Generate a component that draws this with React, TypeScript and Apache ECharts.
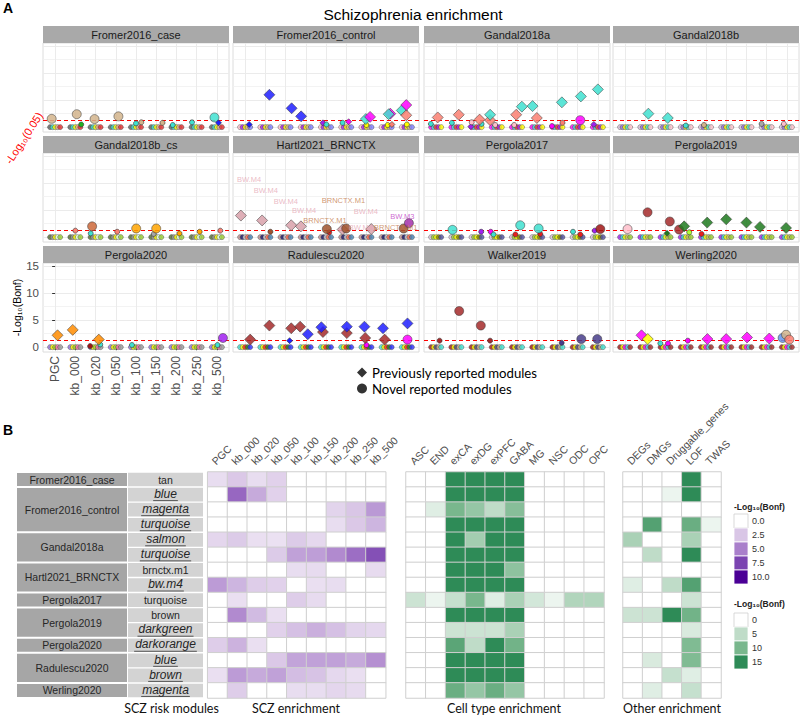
import React, { useEffect, useRef } from "react";
import * as echarts from "echarts";

const ARIAL = "'Liberation Sans', Arial, sans-serif";
const CALIBRI = "Lato, 'Open Sans', sans-serif";

// ---------------- Panel A data ----------------
const categories = ["PGC", "kb_000", "kb_020", "kb_050", "kb_100", "kb_150", "kb_200", "kb_250", "kb_500"];
const facetNames = [
  "Fromer2016_case", "Fromer2016_control", "Gandal2018a", "Gandal2018b",
  "Gandal2018b_cs", "Hartl2021_BRNCTX", "Pergola2017", "Pergola2019",
  "Pergola2020", "Radulescu2020", "Walker2019", "Werling2020",
];

const moduleColours: Record<string, string> = {
  tan: "#d2b48c", turquoise: "#40e0d0", blue: "#1e1eff", magenta: "#ff00ff", salmon: "#fa8072",
  pink: "#ffc0cb", purple: "#a020f0", red: "#e62020", yellow: "#ffff00", green: "#22b022",
  brown: "#a52a2a", darkgreen: "#1f7a1f", darkorange: "#ff8c00", orange: "#ffa500", sienna: "#cd6839",
  darkred: "#a01414", darkslateblue: "#483d8b", cornflowerblue: "#6495ed", bwm4: "#d8a1aa",
  brnctx: "#a0522d", bwm3: "#a531ab", greenyellow: "#adff2f", grey: "#a8a8a8",
};

// [category index, jitter, -log10(Bonf), module colour, shape (d = previously reported, c = novel)]
type Pt = [number, number, number, string, string];

const ptsFromer2016Case: Pt[] = [
  [0, -0.17, 1.54, "tan", "c"], [1, 0.07, 2.4, "tan", "c"], [1, 0.29, 0.5, "green", "c"],
  [2, -0.05, 1.5, "tan", "c"], [3, 0.13, 2.0, "tan", "c"], [4, 0.0, 0.7, "turquoise", "c"],
  [4, 0.26, 0.9, "tan", "c"], [5, 0.31, 0.8, "tan", "c"], [6, -0.18, 0.4, "turquoise", "c"],
  [7, -0.23, 0.9, "turquoise", "c"], [8, -0.12, 1.8, "turquoise", "c"], [8, 0.08, 0.8, "blue", "d"],
];
const ptsFromer2016Control: Pt[] = [
  [0, 0.2, 0.5, "blue", "d"], [1, 0.2, 6.0, "blue", "d"], [2, 0.3, 3.5, "blue", "d"],
  [3, -0.23, 2.0, "blue", "d"], [4, -0.15, 0.8, "purple", "d"], [4, 0.02, 0.5, "turquoise", "c"],
  [5, -0.18, 0.8, "turquoise", "c"], [5, 0.12, 1.0, "magenta", "d"], [6, 0.0, 0.4, "yellow", "c"],
  [6, -0.03, 1.5, "turquoise", "d"], [6, 0.18, 1.9, "magenta", "d"], [7, 0.05, 0.4, "yellow", "c"],
  [7, 0.26, 0.5, "salmon", "d"], [7, 0.18, 2.5, "magenta", "d"], [7, 0.1, 2.4, "turquoise", "d"],
  [8, 0.0, 0.5, "yellow", "c"], [8, -0.25, 3.1, "turquoise", "d"], [8, -0.03, 2.2, "salmon", "d"],
  [8, -0.03, 4.1, "magenta", "d"],
];
const ptsGandal2018a: Pt[] = [
  [0, -0.26, 0.6, "turquoise", "c"], [0, 0.08, 1.8, "salmon", "d"], [1, -0.22, 0.8, "turquoise", "c"],
  [1, 0.12, 2.3, "salmon", "d"], [2, -0.28, 0.1, "purple", "d"], [2, -0.24, 0.9, "pink", "c"],
  [2, 0.25, 0.6, "turquoise", "c"], [2, 0.15, 1.4, "salmon", "d"], [3, -0.08, 0.4, "pink", "c"],
  [3, -0.33, 1.3, "salmon", "d"], [3, -0.33, 2.3, "turquoise", "d"], [4, -0.14, 0.4, "pink", "c"],
  [4, -0.04, 2.3, "salmon", "d"], [4, 0.24, 3.8, "turquoise", "d"], [5, -0.02, 1.7, "salmon", "d"],
  [5, -0.23, 3.9, "turquoise", "d"], [6, -0.27, 0.2, "magenta", "c"], [6, 0.25, 0.8, "salmon", "c"],
  [6, 0.22, 4.6, "turquoise", "d"], [7, 0.13, 1.3, "magenta", "c"], [7, 0.16, 5.7, "turquoise", "d"],
  [8, -0.2, 0.5, "purple", "d"], [8, 0.0, 7.0, "turquoise", "d"],
];
const ptsGandal2018b: Pt[] = [
  [1, 0.15, 2.5, "turquoise", "d"], [2, 0.11, 1.7, "turquoise", "d"], [3, 0.0, 0.3, "turquoise", "c"],
  [4, -0.1, 0.4, "tan", "c"], [7, -0.25, 0.6, "grey", "c"], [8, -0.15, 0.6, "pink", "c"],
];
const ptsGandal2018bCs: Pt[] = [
  [1, 0.0, 1.2, "salmon", "c"], [2, -0.24, 0.7, "turquoise", "c"], [2, -0.17, 2.0, "sienna", "c"],
  [3, 0.07, 1.0, "salmon", "c"], [4, 0.01, 1.6, "orange", "c"], [5, -0.12, 0.6, "grey", "c"],
  [5, 0.0, 1.6, "orange", "c"], [6, 0.15, 0.7, "orange", "c"], [7, 0.15, 1.0, "orange", "c"],
  [8, 0.17, 1.2, "salmon", "c"],
];
const ptsHartl2021: Pt[] = [
  [0, -0.21, 4.0, "bwm4", "d"], [1, 0.25, 1.0, "brnctx", "c"], [1, -0.16, 3.1, "bwm4", "d"],
  [2, 0.28, 2.2, "bwm4", "d"], [3, -0.24, 2.0, "bwm4", "d"], [4, 0.16, 0.9, "red", "c"],
  [4, 0.04, 1.5, "brnctx", "c"], [5, -0.18, 1.4, "bwm4", "d"], [5, 0.0, 1.6, "brnctx", "c"],
  [6, 0.24, 1.5, "bwm4", "d"], [8, -0.16, 1.6, "brnctx", "c"], [8, 0.1, 2.6, "bwm3", "c"],
];
const ptsPergola2017: Pt[] = [
  [1, -0.19, 1.36, "turquoise", "c"], [2, 0.23, 1.0, "purple", "c"], [3, -0.3, 1.0, "magenta", "c"],
  [3, -0.16, 0.5, "turquoise", "c"], [4, -0.08, 0.5, "red", "c"], [4, 0.16, 2.2, "turquoise", "c"],
  [5, 0.15, 0.6, "red", "c"], [5, 0.07, 1.6, "turquoise", "c"], [7, -0.23, 1.0, "turquoise", "c"],
  [7, 0.13, 0.5, "red", "c"], [8, -0.16, 1.2, "purple", "c"], [8, 0.12, 1.5, "darkred", "c"],
];
const ptsPergola2019: Pt[] = [
  [0, 0.12, 1.5, "pink", "c"], [1, 0.11, 4.6, "brown", "c"], [2, 0.07, 0.7, "darkgreen", "d"],
  [2, 0.21, 2.9, "brown", "c"], [3, 0.17, 0.9, "greenyellow", "c"], [3, -0.33, 1.4, "brown", "c"],
  [3, -0.08, 2.0, "darkgreen", "d"], [4, -0.22, 0.6, "red", "c"], [4, 0.06, 2.7, "darkgreen", "d"],
  [5, 0.0, 3.3, "darkgreen", "d"], [6, 0.0, 2.7, "darkgreen", "d"], [7, -0.33, 1.9, "darkgreen", "d"],
  [8, -0.04, 1.7, "darkgreen", "d"],
];
const ptsPergola2020: Pt[] = [
  [0, 0.12, 2.2, "darkorange", "d"], [1, -0.13, 3.2, "darkorange", "d"], [2, -0.27, 0.2, "darkred", "c"],
  [2, 0.23, 0.5, "turquoise", "c"], [2, 0.16, 1.4, "darkorange", "d"], [4, -0.2, 0.4, "turquoise", "c"],
  [8, 0.03, 0.4, "turquoise", "c"], [8, 0.3, 1.7, "purple", "c"],
];
const ptsRadulescu2020: Pt[] = [
  [0, 0.25, 1.4, "brown", "d"], [1, 0.2, 4.0, "brown", "d"], [2, 0.2, 1.2, "blue", "d"],
  [2, 0.28, 3.5, "brown", "d"], [3, -0.28, 3.8, "brown", "d"], [3, 0.1, 2.4, "blue", "d"],
  [4, -0.15, 2.8, "brown", "d"], [4, -0.23, 3.7, "blue", "d"], [5, 0.03, 2.6, "brown", "d"],
  [5, 0.03, 3.8, "blue", "d"], [6, 0.0, 0.4, "magenta", "c"], [6, -0.06, 1.7, "brown", "d"],
  [6, -0.1, 3.8, "blue", "d"], [7, -0.1, 1.4, "brown", "d"], [7, -0.18, 3.5, "blue", "d"],
  [8, 0.03, 1.4, "magenta", "c"], [8, 0.03, 4.4, "blue", "d"],
];
const ptsWalker2019: Pt[] = [
  [0, 0.17, 1.2, "brown", "c"], [1, 0.14, 6.7, "brown", "c"], [2, 0.21, 4.0, "brown", "c"],
  [3, -0.33, 1.2, "brown", "c"], [6, 0.21, 0.8, "darkslateblue", "c"], [7, 0.18, 1.5, "darkslateblue", "c"],
  [8, -0.03, 1.5, "darkslateblue", "c"],
];
const ptsWerling2020: Pt[] = [
  [1, -0.19, 2.2, "magenta", "d"], [1, 0.12, 1.5, "yellow", "d"], [2, -0.26, 0.7, "turquoise", "c"],
  [2, 0.12, 0.7, "magenta", "c"], [3, 0.1, 1.2, "magenta", "c"], [4, 0.07, 1.5, "magenta", "d"],
  [5, 0.0, 1.5, "magenta", "d"], [6, 0.03, 1.8, "magenta", "d"], [7, 0.13, 1.6, "magenta", "d"],
  [8, -0.21, 1.7, "cornflowerblue", "c"], [8, -0.04, 2.3, "tan", "c"], [8, 0.12, 1.4, "salmon", "c"],
];

const facetPoints: Pt[][] = [
  ptsFromer2016Case, ptsFromer2016Control, ptsGandal2018a, ptsGandal2018b,
  ptsGandal2018bCs, ptsHartl2021, ptsPergola2017, ptsPergola2019,
  ptsPergola2020, ptsRadulescu2020, ptsWalker2019, ptsWerling2020,
];

// non-significant modules sitting at 0 in every category
const facetBaselines: string[][] = [
  ["#5e5e5e", "#40e0d0", "#ffff00", "#d8a0a0", "#e03030"],
  ["#ffc0cb", "#a020f0", "#ffff00", "#d2b48c", "#8080ff"],
  ["#ff00ff", "#40e0d0", "#ff3030", "#a020f0", "#ffff00"],
  ["#d8bfd8", "#9370db", "#ffff00", "#40e0d0", "#ffc0cb"],
  ["#556b2f", "#9a9a9a", "#ffff00", "#e0ffff", "#9acd32"],
  ["#bc8f8f", "#191970", "#d3d3d3", "#ff6347", "#4682b4"],
  ["#d8bfd8", "#9acd32", "#ffff00", "#808000", "#5050a0"],
  ["#a020f0", "#40e0d0", "#ffff00", "#bdb76b", "#9acd32"],
  ["#9370db", "#ffff00", "#9acd32", "#ff69b4", "#9a9a9a"],
  ["#40e0d0", "#ffff00", "#ff2020", "#228b22", "#3030ff"],
  ["#a01414", "#ffff00", "#483d8b", "#d2b48c", "#40e0d0"],
  ["#a01414", "#ffff00", "#ff00ff", "#40e0d0", "#a52a2a"],
];
const baselineOffsets = [-0.25, -0.125, 0, 0.125, 0.25];

// repelled labels in Hartl2021_BRNCTX: [x, y, text]
const hartlLabels: [number, number, string][] = [
  [0.19, 10.7, "BW.M4"], [1.02, 8.6, "BW.M4"], [2.01, 6.7, "BW.M4"], [2.92, 5.0, "BW.M4"],
  [5.97, 4.75, "BW.M4"], [5.72, 1.7, "BW.M4"], [4.86, 6.8, "BRNCTX.M1"], [3.95, 3.1, "BRNCTX.M1"],
  [7.45, 1.85, "BRNCTX.M1"], [7.78, 3.83, "BW.M3"],
];
const hartlLabelColours: Record<string, string> = { "BW.M4": "#e6a9b6", "BRNCTX.M1": "#c47c4c", "BW.M3": "#c13fc6" };

const SIG_LINE = 1.3; // -log10(0.05)

// ---------------- Panel B data ----------------
const studyGroups = ["Fromer2016_case", "Fromer2016_control", "Gandal2018a", "Hartl2021_BRNCTX", "Pergola2017", "Pergola2019", "Pergola2020", "Radulescu2020", "Werling2020"];
const studyGroupSizes = [1, 3, 2, 2, 1, 2, 1, 2, 1];
const moduleNames = ["tan", "blue", "magenta", "turquoise", "salmon", "turquoise", "brnctx.m1", "bw.m4", "turquoise", "brown", "darkgreen", "darkorange", "blue", "brown", "magenta"];
const moduleReported = [false, true, true, true, true, true, false, true, false, false, true, true, true, true, true];

const sczColumns = categories;
const sczEnrichment = [
  [1.5, 2.4, 1.5, 2.0, 0, 0, 0, 0, 0],
  [0, 6.0, 3.5, 2.0, 0, 0, 0, 0, 0],
  [0, 0, 0, 0, 0, 0, 1.9, 2.5, 4.1],
  [0, 0, 0, 0, 0, 0, 1.5, 2.4, 3.1],
  [1.8, 2.3, 1.4, 1.3, 2.3, 1.7, 0, 0, 0],
  [0, 0, 0, 2.3, 3.8, 3.9, 4.6, 5.7, 7.0],
  [0, 0, 0, 0, 1.5, 1.6, 0, 0, 1.6],
  [4.0, 3.1, 2.2, 2.0, 0, 1.4, 1.5, 0, 0],
  [0, 1.4, 0, 0, 2.2, 1.6, 0, 0, 0],
  [0, 4.6, 2.9, 1.4, 0, 0, 0, 0, 0],
  [0, 0, 0, 2.0, 2.7, 3.3, 2.7, 1.9, 1.7],
  [2.2, 3.2, 1.4, 0, 0, 0, 0, 0, 0],
  [0, 0, 0, 2.4, 3.7, 3.8, 3.8, 3.5, 4.4],
  [1.4, 4.0, 3.5, 3.8, 2.8, 2.6, 1.7, 1.4, 0],
  [0, 2.2, 0, 0, 1.5, 1.5, 1.8, 1.6, 0],
];

const cellColumns = ["ASC", "END", "exCA", "exDG", "exPFC", "GABA", "MG", "NSC", "ODC", "OPC"];
const cellEnrichment = [
  [0, 0, 15, 15, 15, 15, 0, 0, 0, 0],
  [0, 0, 15, 15, 15, 15, 0, 0, 0, 0],
  [0, 2.5, 10, 8, 5, 9, 0, 0, 0, 0],
  [0, 0, 15, 15, 15, 15, 0, 0, 0, 0],
  [0, 0, 15, 7, 15, 15, 0, 0, 0, 0],
  [0, 0, 15, 15, 15, 15, 0, 0, 0, 0],
  [0, 0, 15, 15, 15, 8.5, 0, 0, 0, 0],
  [0, 0, 15, 15, 15, 15, 0, 0, 0, 0],
  [4, 1.5, 4.5, 10, 2.5, 6.5, 3.5, 1.5, 6, 6],
  [0, 0, 15, 15, 15, 15, 0, 0, 0, 0],
  [0, 0, 4, 4, 4, 6.5, 0, 0, 0, 0],
  [0, 0, 12, 5, 15, 10.5, 0, 0, 0, 0],
  [0, 0, 15, 15, 15, 15, 0, 0, 0, 0],
  [0, 0, 15, 15, 15, 15, 0, 0, 0, 0],
  [0, 0, 11, 8, 11, 8, 0, 0, 0, 0],
];

const otherColumns = ["DEGs", "DMGs", "Druggable_genes", "LOF", "TWAS"];
const otherEnrichment = [
  [0, 0, 0, 15, 0],
  [0, 0, 1.5, 15, 0],
  [0, 0, 0, 0, 0],
  [0, 12.5, 0, 11, 1.5],
  [6.5, 0, 0, 6.5, 0],
  [0, 5, 0, 15, 0],
  [0, 0, 0, 0, 0],
  [2.5, 0, 5, 12.5, 0],
  [0, 0, 0, 4, 0],
  [4, 4, 15, 10.5, 0],
  [0, 0, 0, 3, 0],
  [0, 0, 0, 9.5, 0],
  [0, 3, 0, 9.5, 0],
  [0, 0, 4.5, 2.5, 0],
  [0, 2.5, 0, 4.5, 0],
];

const purpleStops = ["#ffffff", "#d9c6e6", "#a97fcb", "#7b44b1", "#4b0096"];
const greenStops = ["#ffffff", "#bfdcc8", "#79b78d", "#2e8b57"];
const purpleLegendValues = [0, 2.5, 5, 7.5, 10];
const greenLegendValues = [0, 5, 10, 15];

// ---------------- layout ----------------
const FACET_LEFT = [43, 233, 424, 613];
const FACET_TOP = [43, 153, 263];
const FACET_W = 186;
const FACET_H = 89;
const STRIP_H = 17;
const HM_TOP = 472;
const HM_H = 226;
const STUDY_FRAC = 110 / 186;

let measureCtx: CanvasRenderingContext2D | null = null;
function textWidth(text: string, font: string) {
  if (!measureCtx) measureCtx = document.createElement("canvas").getContext("2d");
  if (!measureCtx) return text.length * 6;
  measureCtx.font = font;
  return measureCtx.measureText(text).width;
}

function buildOption() {
  const grid: any[] = [];
  const xAxis: any[] = [];
  const yAxis: any[] = [];
  const series: any[] = [];
  const graphic: any[] = [];

  facetNames.forEach((name, k) => {
    const r = Math.floor(k / 4);
    const c = k % 4;
    const left = FACET_LEFT[c];
    const top = FACET_TOP[r];
    const isBL = r === 2 && c === 0;
    grid.push({ left, top, width: FACET_W, height: FACET_H, show: true, backgroundColor: "#ffffff", borderColor: "#dcdcdc", borderWidth: 1 });
    xAxis.push({
      type: "value", gridIndex: k, min: -0.6, max: 8.6, minInterval: 1, maxInterval: 1,
      axisLine: { show: false },
      axisTick: { show: isBL, length: 3, lineStyle: { color: "#333" }, customValues: categories.map((_, i) => i) },
      axisLabel: {
        show: isBL, rotate: 90, fontSize: 12, color: "#4d4d4d", margin: 4, fontFamily: ARIAL,
        formatter: (v: number) => (Number.isInteger(v) && v >= 0 && v < categories.length ? categories[v] : ""),
      },
      splitLine: { show: true, lineStyle: { color: "#ebebeb", width: 1 } },
    });
    yAxis.push({
      type: "value", gridIndex: k, min: -0.9, max: 15.6, minInterval: 5, maxInterval: 5,
      axisLine: { show: false },
      axisTick: { show: isBL, length: 3, lineStyle: { color: "#333" }, customValues: [0, 5, 10, 15] },
      axisLabel: {
        show: isBL, fontSize: 11.5, color: "#4d4d4d", margin: 4, fontFamily: ARIAL,
        formatter: (v: number) => (v >= 0 && Math.abs(v % 5) < 1e-9 ? String(v) : ""),
      },
      splitLine: { show: true, lineStyle: { color: "#ebebeb", width: 1 } },
      minorTick: { show: false, splitNumber: 2 },
      minorSplitLine: { show: true, lineStyle: { color: "#f0f0f0", width: 0.8 } },
      name: isBL ? "-Log₁₀(Bonf)" : "", nameLocation: "middle", nameRotate: 90, nameGap: 19,
      nameTextStyle: { fontSize: 10.5, color: "#000", fontFamily: ARIAL },
    });

    // strip
    graphic.push({ type: "rect", shape: { x: left, y: top - STRIP_H, width: FACET_W, height: STRIP_H }, style: { fill: "#a9a9a9" }, silent: true });
    graphic.push({
      type: "text", x: left + FACET_W / 2, y: top - STRIP_H / 2 + 0.5,
      style: { text: name, fill: "#1a1a1a", font: `11px ${ARIAL}`, textAlign: "center", textVerticalAlign: "middle" }, silent: true,
    });

    const base: any[] = [];
    categories.forEach((_, ci) => {
      facetBaselines[k].forEach((col, j) => base.push({ value: [ci + baselineOffsets[j], 0], itemStyle: { color: col } }));
    });
    series.push({
      type: "scatter", xAxisIndex: k, yAxisIndex: k, data: base, symbol: "circle", symbolSize: 5,
      itemStyle: { borderColor: "#3a3a3a", borderWidth: 0.5 }, silent: true, z: 2,
      markLine: {
        silent: true, symbol: "none", z: 2, label: { show: false },
        lineStyle: { color: "#ff0000", type: [4, 3], width: 1.2 },
        data: [{ yAxis: SIG_LINE }],
      },
    });
    series.push({
      type: "scatter", xAxisIndex: k, yAxisIndex: k, silent: true, z: 3,
      data: facetPoints[k].map(([ci, dx, y, col, sh]) => {
        const big = y >= SIG_LINE;
        const dia = sh === "d";
        return {
          value: [ci + dx, y],
          symbol: dia ? "diamond" : "circle",
          symbolSize: big ? (dia ? 11 : 9) : (dia ? 6 : 5),
          itemStyle: { color: moduleColours[col], opacity: big ? 0.85 : 1, borderColor: "#333", borderWidth: 0.6 },
        };
      }),
    });
    if (name === "Hartl2021_BRNCTX") {
      series.push({
        type: "scatter", xAxisIndex: k, yAxisIndex: k, silent: true, z: 4, symbolSize: 0.1,
        itemStyle: { color: "rgba(0,0,0,0)" },
        label: { show: true, position: "inside", formatter: "{b}", fontSize: 7.5, fontFamily: ARIAL },
        data: hartlLabels.map(([x, y, t]) => ({ value: [x, y], name: t, label: { color: hartlLabelColours[t] } })),
      });
    }
  });

  // legend dummy series
  series.push({ type: "scatter", name: "Previously reported modules", xAxisIndex: 0, yAxisIndex: 0, data: [], itemStyle: { color: "#000" } });
  series.push({ type: "scatter", name: "Novel reported modules", xAxisIndex: 0, yAxisIndex: 0, data: [], itemStyle: { color: "#000" } });

  // ---------------- Panel B ----------------
  const rowIds = moduleNames.map((_, i) => String(i));
  const labelGrid = grid.length;
  grid.push({ left: 17, top: HM_TOP, width: 186, height: HM_H });
  xAxis.push({ type: "value", gridIndex: labelGrid, min: 0, max: 1, show: false });
  yAxis.push({ type: "category", gridIndex: labelGrid, data: rowIds, inverse: true, show: false });

  const studyStarts: number[] = [];
  studyGroupSizes.reduce((acc, n) => { studyStarts.push(acc); return acc + n; }, 0);

  const studyFont = `10.5px ${ARIAL}`;
  series.push({
    type: "custom", xAxisIndex: labelGrid, yAxisIndex: labelGrid, silent: true,
    data: studyGroups.map((_, i) => [0, studyStarts[i]]), encode: { x: 0, y: 1 },
    renderItem: (params: any, api: any) => {
      const i = params.dataIndex;
      const cs = params.coordSys;
      const h = api.size([0, 1])[1];
      const yTop = api.coord([0, studyStarts[i]])[1] - h / 2;
      const n = studyGroupSizes[i];
      const w = cs.width * STUDY_FRAC;
      return {
        type: "group",
        children: [
          { type: "rect", shape: { x: cs.x, y: yTop + 1, width: w, height: n * h - 2 }, style: { fill: "#a6a6a6" } },
          { type: "text", x: cs.x + w / 2, y: yTop + (n * h) / 2, style: { text: studyGroups[i], font: studyFont, fill: "#262626", textAlign: "center", textVerticalAlign: "middle" } },
        ],
      };
    },
  });
  series.push({
    type: "custom", xAxisIndex: labelGrid, yAxisIndex: labelGrid, silent: true,
    data: moduleNames.map((_, i) => [0, i]), encode: { x: 0, y: 1 },
    renderItem: (params: any, api: any) => {
      const i = params.dataIndex;
      const cs = params.coordSys;
      const h = api.size([0, 1])[1];
      const yc = api.coord([0, i])[1];
      const x0 = cs.x + cs.width * STUDY_FRAC + 1;
      const w = cs.x + cs.width - x0;
      const italic = moduleReported[i];
      const font = italic ? `italic 12px ${ARIAL}` : `10.5px ${ARIAL}`;
      const cx = x0 + w / 2;
      const children: any[] = [
        { type: "rect", shape: { x: x0, y: yc - h / 2 + 0.7, width: w, height: h - 1.4 }, style: { fill: "#d3d3d3" } },
        { type: "text", x: cx, y: yc - (italic ? 0.8 : 0), style: { text: moduleNames[i], font, fill: "#262626", textAlign: "center", textVerticalAlign: "middle" } },
      ];
      if (italic) {
        const tw = textWidth(moduleNames[i], font) + 2;
        children.push({ type: "line", shape: { x1: cx - tw / 2, y1: yc + 6, x2: cx + tw / 2, y2: yc + 6 }, style: { stroke: "#333", lineWidth: 0.8 } });
      }
      return { type: "group", children };
    },
  });

  const heatmaps = [
    { left: 207.7, width: 178, cols: sczColumns, data: sczEnrichment, stops: purpleStops, max: 10 },
    { left: 406, width: 198, cols: cellColumns, data: cellEnrichment, stops: greenStops, max: 15 },
    { left: 623, width: 98, cols: otherColumns, data: otherEnrichment, stops: greenStops, max: 15 },
  ];
  const visualMap: any[] = [];
  heatmaps.forEach((hm) => {
    const gi = grid.length;
    grid.push({ left: hm.left, top: HM_TOP, width: hm.width, height: HM_H });
    xAxis.push({
      type: "category", gridIndex: gi, data: hm.cols, position: "top",
      axisLine: { show: false }, axisTick: { show: false }, splitLine: { show: false },
      axisLabel: { rotate: -45, interval: 0, fontSize: 10.5, color: "#4d4d4d", margin: 5, fontFamily: ARIAL, align: "left", verticalAlign: "bottom" },
    });
    yAxis.push({ type: "category", gridIndex: gi, data: rowIds, inverse: true, show: false });
    const si = series.length;
    series.push({
      type: "heatmap", xAxisIndex: gi, yAxisIndex: gi, silent: true, progressive: 0,
      itemStyle: { borderColor: "#cfcfcf", borderWidth: 1 },
      emphasis: { disabled: true },
      data: hm.data.flatMap((row, ri) => row.map((v, ci) => [ci, ri, v])),
    });
    visualMap.push({ type: "continuous", show: false, min: 0, max: hm.max, dimension: 2, seriesIndex: si, inRange: { color: hm.stops } });
  });

  // heatmap legends
  const legendBlock = (titleY: number, boxTop: number, values: number[], stops: string[], digits: number) => {
    graphic.push({ type: "text", x: 734, y: titleY, style: { text: "-Log₁₀(Bonf)", font: `bold 8.5px ${ARIAL}`, fill: "#222", textAlign: "left", textVerticalAlign: "middle" }, silent: true });
    values.forEach((v, i) => {
      graphic.push({ type: "rect", shape: { x: 734, y: boxTop + i * 14, width: 14, height: 14 }, style: { fill: stops[i], stroke: i === 0 ? "#cfcfcf" : "#ffffff", lineWidth: 0.8 }, silent: true });
      graphic.push({ type: "text", x: 752, y: boxTop + i * 14 + 7, style: { text: v.toFixed(digits), font: `9px ${ARIAL}`, fill: "#333", textAlign: "left", textVerticalAlign: "middle" }, silent: true });
    });
  };
  legendBlock(507, 514, purpleLegendValues, purpleStops, 1);
  legendBlock(604, 613, greenLegendValues, greenStops, 0);

  // titles, panel letters, annotations
  graphic.push({ type: "text", x: 413, y: 14, style: { text: "Schizophrenia enrichment", font: `15.5px ${ARIAL}`, fill: "#000", textAlign: "center", textVerticalAlign: "middle" }, silent: true });
  graphic.push({ type: "text", x: 3, y: 8, style: { text: "A", font: `bold 14px ${ARIAL}`, fill: "#000", textAlign: "left", textVerticalAlign: "middle" }, silent: true });
  graphic.push({ type: "text", x: 3, y: 430, style: { text: "B", font: `bold 14px ${ARIAL}`, fill: "#000", textAlign: "left", textVerticalAlign: "middle" }, silent: true });
  graphic.push({ type: "text", x: 24, y: 138, rotation: 0.995, style: { text: "-Log₁₀(0.05)", font: `11px ${ARIAL}`, fill: "#ff0000", textAlign: "center", textVerticalAlign: "middle" }, silent: true });
  const captions: [number, string][] = [[171.5, "SCZ risk modules"], [296, "SCZ enrichment"], [504, "Cell type enrichment"], [672, "Other enrichment"]];
  captions.forEach(([x, t]) => graphic.push({ type: "text", x, y: 708, style: { text: t, font: `12.5px ${CALIBRI}`, fill: "#111", textAlign: "center", textVerticalAlign: "middle" }, silent: true }));

  return {
    animation: false,
    backgroundColor: "#ffffff",
    textStyle: { fontFamily: ARIAL },
    grid, xAxis, yAxis, series, visualMap, graphic,
    legend: {
      orient: "vertical", left: 357, top: 366, padding: 0, itemWidth: 10, itemHeight: 10, itemGap: 3,
      selectedMode: false,
      textStyle: { fontFamily: CALIBRI, fontSize: 13.2, color: "#000" },
      data: [
        { name: "Previously reported modules", icon: "diamond" },
        { name: "Novel reported modules", icon: "circle" },
      ],
    },
  };
}

export default function App() {
  const ref = useRef<HTMLDivElement>(null);
  useEffect(() => {
    if (!ref.current) return;
    const chart = echarts.init(ref.current, null, { renderer: "svg" });
    chart.setOption(buildOption() as any);
    return () => chart.dispose();
  }, []);
  return <div ref={ref} style={{ position: "fixed", left: 0, top: 0, width: 800, height: 715, background: "#fff" }} />;
}
